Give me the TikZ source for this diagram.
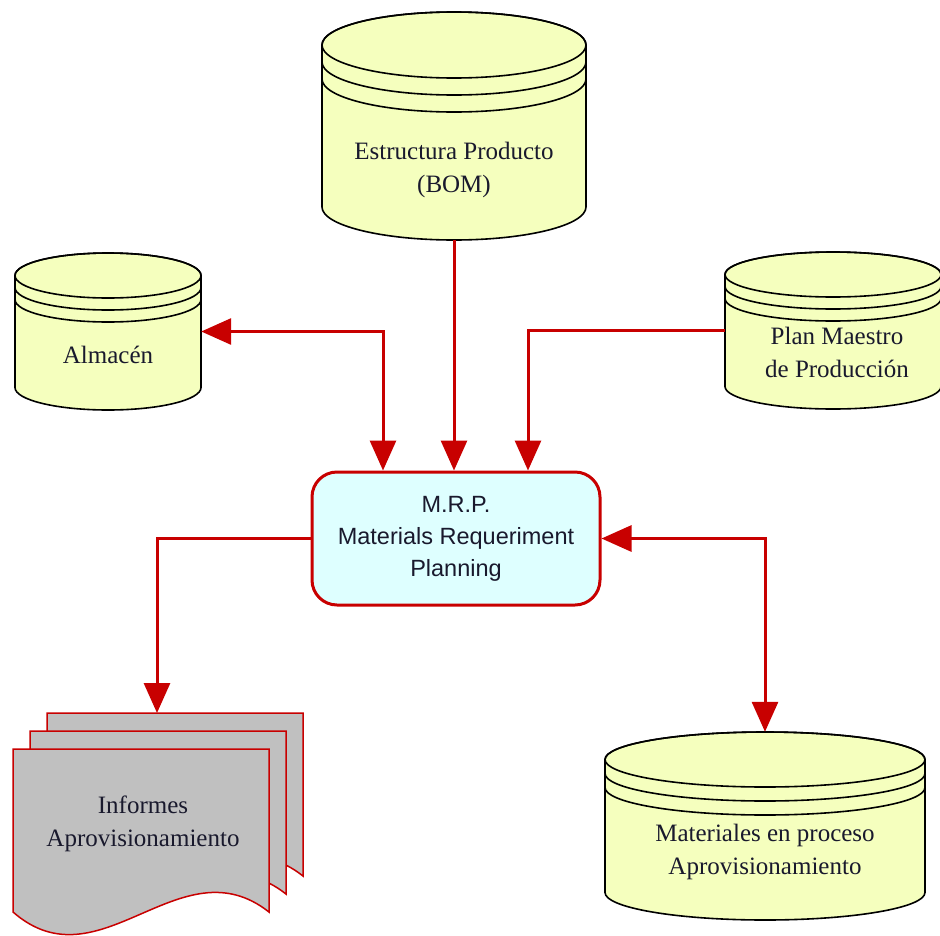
\documentclass[tikz,border=0pt]{standalone}
\usepackage{fontspec}
\setmainfont{Liberation Serif}
\setsansfont{Liberation Sans}
\usepackage{tikz}
\usetikzlibrary{positioning,arrows.meta,calc}

\definecolor{flowred}{RGB}{200,0,0}
\definecolor{diskyellow}{RGB}{245,255,190}
\definecolor{mrpcyan}{RGB}{222,255,255}
\definecolor{pagegray}{RGB}{192,192,192}
\definecolor{inkdark}{RGB}{25,25,45}

\tikzset{
  diskline/.style={draw=black, line width=1.6pt},
  flow/.style={draw=flowred, line width=3pt, -{Triangle[length=30pt,width=26pt]}},
  serif label/.style={font=\fontsize{25}{33}\selectfont, align=center, text=inkdark},
  mrpbox/.style={draw=flowred, line width=3pt, fill=mrpcyan, rounded corners=25pt,
    minimum width=288pt, minimum height=133pt, align=center, text=inkdark,
    font=\sffamily\fontsize{23.5}{32}\selectfont},
  pagestyle/.style={draw=flowred, line width=1.5pt, fill=pagegray}
}

% name, cx, cy (top ellipse), rx, ry, height, ring gap
\newcommand{\storedisk}[7]{%
  \filldraw[diskline, fill=diskyellow] (#2-#4,-#3) -- (#2-#4,-#3-#6)
    arc[start angle=180, end angle=360, x radius=#4, y radius=#5]
    -- (#2+#4,-#3) arc[start angle=0, end angle=180, x radius=#4, y radius=#5] -- cycle;
  \draw[diskline] (#2,-#3) ellipse[x radius=#4, y radius=#5];
  \draw[diskline] (#2-#4,-#3-#7) arc[start angle=180, end angle=360, x radius=#4, y radius=#5];
  \draw[diskline] (#2-#4,-#3-2*#7) arc[start angle=180, end angle=360, x radius=#4, y radius=#5];
  \node[inner sep=0pt, minimum width=2*#4, minimum height=#6+2*#5] (#1) at (#2,-#3-#6/2) {};
}

% one sheet of the report stack, offset dx, dy
\newcommand{\reportsheet}[2]{%
  \filldraw[pagestyle] (13+#1,-912+#2) -- (13+#1,-749+#2) -- (269+#1,-749+#2) -- (269+#1,-912+#2)
    .. controls (180+#1,-842+#2) and (100+#1,-988+#2) .. cycle;
}

\begin{document}
\begin{tikzpicture}[x=1pt, y=1pt]
  \useasboundingbox (0,0) rectangle (940,-935);

  % data stores
  \storedisk{bom}{454}{45}{132}{33}{162}{17}
  \storedisk{almacen}{108}{275.5}{93}{22.5}{112}{12}
  \storedisk{plan}{833}{274.5}{108}{22.5}{112}{12}
  \storedisk{materiales}{765}{759.5}{160}{27.5}{133}{14}

  \node[serif label] (bomtext) at (454,-170) {Estructura Producto\\(BOM)};
  \node[serif label] (almacentext) at (108,-355) {Almacén};
  \node[serif label] (plantext) at (837,-352) {Plan Maestro\\de Producción};
  \node[serif label] (materialestext) at (765,-852) {Materiales en proceso\\Aprovisionamiento};

  % reports
  \reportsheet{34}{36}
  \reportsheet{17}{18}
  \reportsheet{0}{0}
  \node[serif label] (informestext) at (143,-824) {Informes\\Aprovisionamiento};
  \coordinate (informesin) at (157,-713);

  % central process
  \node[mrpbox] (mrp) at (456,-538.5) {M.R.P.\\Materials Requeriment\\Planning};

  % flows
  \draw[flow, {Triangle[length=30pt,width=26pt]}-{Triangle[length=30pt,width=26pt]}]
    (almacen.east) -| ([xshift=-73pt]mrp.north);
  \draw[flow] (bom.south) -- (bom.south |- mrp.north);
  \draw[flow] (plan.west) -| ([xshift=72pt]mrp.north);
  \draw[flow] (mrp.west) -| (informesin);
  \draw[flow, {Triangle[length=30pt,width=26pt]}-{Triangle[length=30pt,width=26pt]}]
    (mrp.east) -| (materiales.north);
\end{tikzpicture}
\end{document}
